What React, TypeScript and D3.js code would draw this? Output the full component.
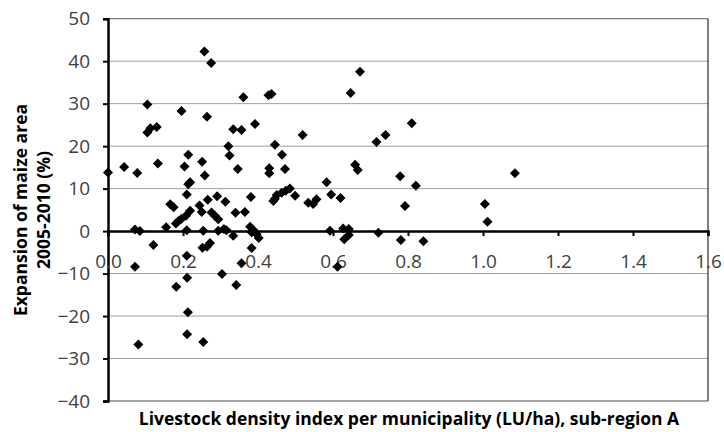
import React, { useEffect, useRef } from "react";
import * as d3 from "d3";

// livestock density (LU/ha) per municipality
const density: number[] = [
  0.0, 0.043, 0.078, 0.072, 0.085, 0.072, 0.081, 0.121, 0.105, 0.105, 0.113, 0.13, 0.133, 0.155,
  0.166, 0.175, 0.182, 0.181, 0.188, 0.196, 0.196, 0.204, 0.208, 0.21, 0.21, 0.21, 0.211, 0.213,
  0.211, 0.214, 0.219, 0.214, 0.219,
  0.244, 0.25, 0.251, 0.258, 0.257, 0.275, 0.264, 0.254, 0.252, 0.264, 0.272, 0.254, 0.266, 0.276,
  0.285, 0.291, 0.294, 0.294, 0.304, 0.309, 0.313, 0.316,
  0.321, 0.324, 0.334, 0.334, 0.34, 0.342, 0.346, 0.356, 0.356, 0.361, 0.365, 0.381, 0.379, 0.383,
  0.383, 0.388, 0.392, 0.396, 0.402,
  0.428, 0.436, 0.43, 0.43, 0.445, 0.464, 0.472, 0.441, 0.445, 0.45, 0.463, 0.474, 0.485, 0.499,
  0.519, 0.534, 0.547, 0.556,
  0.583, 0.595, 0.62, 0.592, 0.612, 0.627, 0.642, 0.63, 0.642, 0.647, 0.672, 0.659, 0.666, 0.716,
  0.74, 0.721, 0.779, 0.792, 0.781, 0.81, 0.821, 0.841, 1.005, 1.012, 1.085,
];

// expansion of maize area 2005-2010 (%)
const expansion: number[] = [
  13.8, 15.1, 13.7, 0.4, 0.0, -8.4, -26.7, -3.3, 29.8, 23.2, 24.2, 24.5, 15.9, 0.9,
  6.3, 5.6, -13.1, 1.8, 2.4, 2.9, 28.3, 15.2, 3.6, 8.6, 0.2, -5.8, -11.0, -19.1,
  -24.3, 11.0, 11.5, 18.0, 4.8,
  6.0, 4.5, 16.3, 13.1, 42.3, 39.6, 26.9, 0.1, -3.9, -3.7, -2.8, -26.1, 7.4, 4.4,
  3.6, 8.2, 2.8, 0.1, -10.1, 0.5, 6.9, 0.2,
  20.0, 17.8, 24.0, -1.1, 4.3, -12.7, 14.6, 23.8, -7.6, 31.5, 4.5, 8.0, 1.0, -0.3,
  -4.0, 0.2, 25.2, -0.7, -1.6,
  32.0, 32.3, 14.8, 13.6, 20.3, 18.0, 14.6, 7.1, 7.6, 8.5, 9.0, 9.5, 10.0, 8.3,
  22.6, 6.7, 6.4, 7.5,
  11.5, 8.6, 7.8, 0.1, -8.4, 0.6, 0.5, -1.9, -0.9, 32.5, 37.5, 15.6, 14.4, 21.0,
  22.6, -0.4, 12.9, 5.9, -2.1, 25.4, 10.7, -2.4, 6.4, 2.2, 13.6,
];

const xTickValues = [0, 0.2, 0.4, 0.6, 0.8, 1.0, 1.2, 1.4, 1.6];
const yTickValues = [-40, -30, -20, -10, 0, 10, 20, 30, 40, 50];

const xTitle = "Livestock density index per municipality (LU/ha), sub-region A";
const yTitleLines = ["Expansion of maize area", "2005-2010 (%)"];

const W = 724;
const H = 432;
const FONT = "'Open Sans', sans-serif";

export default function App() {
  const svgRef = useRef<SVGSVGElement>(null);

  useEffect(() => {
    const svg = d3.select(svgRef.current);
    svg.selectAll("*").remove();

    const left = 108;
    const right = 708;
    const top = 18.7;
    const bottom = 401;

    const x = d3.scaleLinear().domain([0, 1.6]).range([left, right]);
    const y = d3.scaleLinear().domain([-40, 50]).range([bottom, top]);

    svg.append("rect").attr("width", W).attr("height", H).attr("fill", "#fff");

    // horizontal gridlines
    svg
      .append("g")
      .selectAll("line")
      .data(yTickValues.filter((v) => v !== 0 && v !== 50))
      .join("line")
      .attr("x1", left)
      .attr("x2", right)
      .attr("y1", (d) => y(d))
      .attr("y2", (d) => y(d))
      .attr("stroke", "#a0a0a0")
      .attr("stroke-width", 1);

    // plot frame: top, right, bottom
    svg
      .append("line")
      .attr("x1", left)
      .attr("x2", right)
      .attr("y1", y(50))
      .attr("y2", y(50))
      .attr("stroke", "#7a7a7a")
      .attr("stroke-width", 1.2);
    svg
      .append("line")
      .attr("x1", right)
      .attr("x2", right)
      .attr("y1", y(50))
      .attr("y2", y(-40))
      .attr("stroke", "#000")
      .attr("stroke-width", 1);
    svg
      .append("line")
      .attr("x1", left)
      .attr("x2", right)
      .attr("y1", y(-40))
      .attr("y2", y(-40))
      .attr("stroke", "#7a7a7a")
      .attr("stroke-width", 1.2);

    // y axis
    const yAxis = svg
      .append("g")
      .attr("transform", `translate(${left},0)`)
      .call(d3.axisLeft(y).tickValues(yTickValues).tickSize(5).tickPadding(13).tickFormat(d3.format("d")));
    yAxis.select(".domain").attr("stroke", "#000").attr("stroke-width", 2.5);
    yAxis.selectAll(".tick line").attr("stroke", "#000").attr("stroke-width", 2);
    yAxis
      .selectAll(".tick text")
      .attr("fill", "#404040")
      .style("font-family", FONT)
      .style("font-size", "19px");

    // x axis crossing at 0
    const xAxis = svg
      .append("g")
      .attr("transform", `translate(0,${y(0)})`)
      .call(d3.axisBottom(x).tickValues(xTickValues).tickSize(5).tickPadding(18).tickFormat(d3.format(".1f")));
    xAxis.select(".domain").attr("stroke", "#000").attr("stroke-width", 2.5);
    xAxis.selectAll(".tick line").attr("stroke", "#000").attr("stroke-width", 2);
    xAxis
      .selectAll(".tick text")
      .attr("fill", "#404040")
      .style("font-family", FONT)
      .style("font-size", "19px");

    // axis titles
    svg
      .append("text")
      .attr("x", 409)
      .attr("y", 425)
      .attr("text-anchor", "middle")
      .attr("fill", "#000")
      .style("font-family", FONT)
      .style("font-size", "17.5px")
      .style("font-weight", "700")
      .text(xTitle);

    svg
      .append("g")
      .selectAll("text")
      .data(yTitleLines)
      .join("text")
      .attr("transform", (_d, i) => `translate(${27 + i * 23},210) rotate(-90)`)
      .attr("text-anchor", "middle")
      .attr("fill", "#000")
      .style("font-family", FONT)
      .style("font-size", "17.5px")
      .style("font-weight", "700")
      .text((d) => d);

    // points
    const diamond = d3.symbol().type(d3.symbolSquare).size(50);
    svg
      .append("g")
      .selectAll("path")
      .data(density.map((d, i) => [d, expansion[i]]))
      .join("path")
      .attr("d", diamond)
      .attr("transform", (d) => `translate(${x(d[0])},${y(d[1])}) rotate(45)`)
      .attr("fill", "#000");
  }, []);

  return (
    <svg
      ref={svgRef}
      width={W}
      height={H}
      style={{ position: "absolute", left: 0, top: 0, display: "block" }}
    />
  );
}
